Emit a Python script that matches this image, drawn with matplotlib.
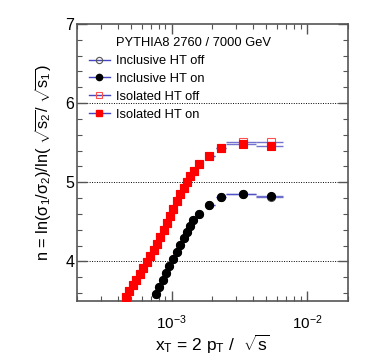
import matplotlib
matplotlib.use("Agg")
import matplotlib.pyplot as plt
from matplotlib.lines import Line2D
from matplotlib.ticker import LogLocator, MultipleLocator, LogFormatterMathtext

plt.rcParams['font.family'] = ['Liberation Sans', 'DejaVu Sans']
plt.rcParams['mathtext.fontset'] = 'custom'
plt.rcParams['mathtext.rm'] = 'Liberation Sans'
plt.rcParams['mathtext.it'] = 'Liberation Sans'
plt.rcParams['mathtext.bf'] = 'Liberation Sans:bold'

# ---- data ----
iso_xt = [4.61e-4, 4.87e-4, 5.16e-4, 5.45e-4, 5.81e-4, 6.14e-4, 6.54e-4, 6.92e-4,
          7.37e-4, 7.79e-4, 8.24e-4, 8.73e-4, 9.23e-4, 9.75e-4, 1.031e-3, 1.094e-3,
          1.157e-3, 1.226e-3, 1.297e-3, 1.371e-3, 1.453e-3, 1.589e-3, 1.892e-3,
          2.31e-3, 3.35e-3, 5.44e-3]
iso_on = [3.551, 3.626, 3.697, 3.769, 3.845, 3.917, 3.992, 4.063, 4.139, 4.220,
          4.303, 4.391, 4.485, 4.575, 4.668, 4.758, 4.846, 4.927, 5.003, 5.073,
          5.141, 5.227, 5.335, 5.436, 5.478, 5.463]
iso_off = [3.551, 3.626, 3.697, 3.769, 3.845, 3.917, 3.992, 4.063, 4.139, 4.220,
           4.303, 4.391, 4.485, 4.575, 4.668, 4.758, 4.846, 4.927, 5.003, 5.073,
           5.141, 5.227, 5.335, 5.436, 5.505, 5.510]
iso_lo = [4.61e-4, 4.87e-4, 5.16e-4, 5.45e-4, 5.81e-4, 6.14e-4, 6.54e-4, 6.92e-4,
          7.37e-4, 7.79e-4, 8.24e-4, 8.73e-4, 9.23e-4, 9.75e-4, 1.031e-3, 1.094e-3,
          1.157e-3, 1.226e-3, 1.297e-3, 1.371e-3, 1.453e-3, 1.589e-3, 1.75e-3,
          2.14e-3, 2.51e-3, 4.23e-3]
iso_hi = [4.61e-4, 4.87e-4, 5.16e-4, 5.45e-4, 5.81e-4, 6.14e-4, 6.54e-4, 6.92e-4,
          7.37e-4, 7.79e-4, 8.24e-4, 8.73e-4, 9.23e-4, 9.75e-4, 1.031e-3, 1.094e-3,
          1.157e-3, 1.226e-3, 1.297e-3, 1.371e-3, 1.453e-3, 1.589e-3, 2.08e-3,
          2.51e-3, 4.23e-3, 6.64e-3]

inc_xt = [7.62e-4, 8.10e-4, 8.59e-4, 9.08e-4, 9.60e-4, 1.022e-3, 1.088e-3, 1.157e-3,
          1.226e-3, 1.296e-3, 1.371e-3, 1.447e-3, 1.589e-3, 1.889e-3, 2.31e-3,
          3.36e-3, 5.44e-3]
inc_on = [3.590, 3.672, 3.763, 3.848, 3.942, 4.034, 4.122, 4.211, 4.295, 4.372,
          4.447, 4.518, 4.600, 4.718, 4.814, 4.848, 4.832]
inc_off = [3.590, 3.672, 3.763, 3.848, 3.942, 4.034, 4.122, 4.211, 4.295, 4.372,
           4.447, 4.518, 4.600, 4.718, 4.814, 4.846, 4.812]
inc_lo = [7.62e-4, 8.10e-4, 8.59e-4, 9.08e-4, 9.60e-4, 1.022e-3, 1.088e-3, 1.157e-3,
          1.226e-3, 1.296e-3, 1.371e-3, 1.447e-3, 1.589e-3, 1.75e-3, 2.14e-3,
          2.51e-3, 4.23e-3]
inc_hi = [7.62e-4, 8.10e-4, 8.59e-4, 9.08e-4, 9.60e-4, 1.022e-3, 1.088e-3, 1.157e-3,
          1.226e-3, 1.296e-3, 1.371e-3, 1.447e-3, 1.589e-3, 2.08e-3, 2.51e-3,
          4.23e-3, 6.64e-3]

header = "PYTHIA8 2760 / 7000 GeV"
labels = ["Inclusive HT off", "Inclusive HT on", "Isolated HT off", "Isolated HT on"]

BLUE = '#4646c0'

fig = plt.figure(figsize=(3.74, 3.57), dpi=100)
ax = fig.add_axes([0.206, 0.157, 0.724, 0.776])


def draw(x, y, lo, hi, marker, mfc, mec, ms, z):
    xerr = [[xi - l for xi, l in zip(x, lo)], [h - xi for xi, h in zip(x, hi)]]
    ax.errorbar(x, y, xerr=xerr, fmt='none', ecolor=BLUE, elinewidth=1.0,
                alpha=0.75, capsize=0, zorder=z)
    ax.plot(x, y, linestyle='none', marker=marker, mfc=mfc, mec=mec, ms=ms,
            mew=0.8, zorder=z + 0.5)


draw(inc_xt, inc_off, inc_lo, inc_hi, 'o', 'none', '#555555', 5.8, 3)
draw(inc_xt, inc_on, inc_lo, inc_hi, 'o', 'black', 'black', 5.8, 4)
draw(iso_xt, iso_off, iso_lo, iso_hi, 's', 'none', '#ff5050', 5.4, 5)
draw(iso_xt, iso_on, iso_lo, iso_hi, 's', 'red', 'red', 5.4, 6)

ax.set_xscale('log')
ax.set_xlim(2e-4, 2e-2)
ax.set_ylim(3.5, 7.0)

for yv in (4, 5, 6):
    ax.axhline(yv, color='black', linestyle=(0, (1, 1.5)), linewidth=0.7, zorder=1)

ax.yaxis.set_major_locator(MultipleLocator(1))
ax.yaxis.set_minor_locator(MultipleLocator(0.2))
ax.xaxis.set_major_locator(LogLocator(base=10, numticks=10))
ax.xaxis.set_minor_locator(LogLocator(base=10, subs=[2, 3, 4, 5, 6, 7, 8, 9], numticks=20))
ax.xaxis.set_major_formatter(LogFormatterMathtext())
ax.tick_params(which='both', direction='in', top=True, right=True, color='#555555')
ax.tick_params(which='major', length=7, width=1.0)
ax.tick_params(which='minor', length=3.5, width=0.8)
ax.tick_params(axis='y', which='major', pad=2, labelsize=11.5)
ax.tick_params(axis='x', which='major', pad=9, labelsize=11)

for sp in ax.spines.values():
    sp.set_color('#555555')
    sp.set_linewidth(1.2)

ax.set_ylabel(r"n = ln($\sigma_1$/$\sigma_2$)/ln( $\sqrt{s_2}$/ $\sqrt{s_1}$)", fontsize=11.8, labelpad=8)
ax.set_xlabel(r"x$_T$ = 2 p$_T$ /  $\sqrt{s}$", fontsize=12.5, labelpad=1)

handles = [
    Line2D([], [], color=BLUE, lw=1, marker='o', mfc='none', mec='#555555', ms=4.5, mew=0.8),
    Line2D([], [], color=BLUE, lw=1, marker='o', mfc='black', mec='black', ms=4.5),
    Line2D([], [], color=BLUE, lw=1, marker='s', mfc='none', mec='#ff5050', ms=4.5, mew=0.8),
    Line2D([], [], color=BLUE, lw=1, marker='s', mfc='red', mec='red', ms=4.5),
]
ax.text(0.144, 0.931, header, transform=ax.transAxes, fontsize=9.3, va='center', ha='left')
ax.legend(handles, labels, loc='upper left', bbox_to_anchor=(0.035, 0.897), frameon=False,
          fontsize=9.3, handlelength=1.6, handletextpad=0.5, labelspacing=0.45,
          borderaxespad=0, borderpad=0.2)

fig.savefig("out.png", dpi=100)
